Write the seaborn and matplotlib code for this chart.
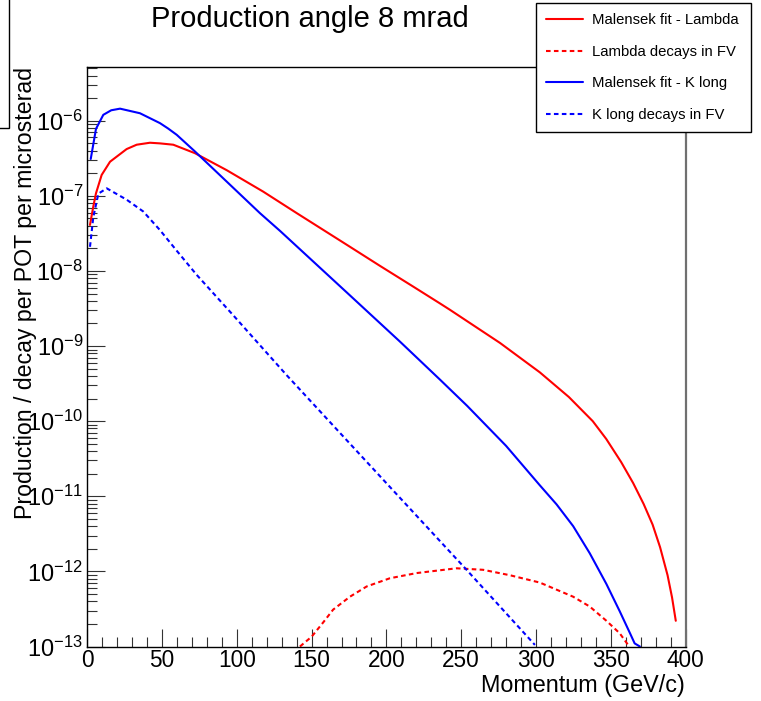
import numpy as np
import pandas as pd
import seaborn as sns
import matplotlib
matplotlib.use("Agg")
import matplotlib.pyplot as plt
from matplotlib.ticker import LogLocator, MultipleLocator, NullFormatter, FixedLocator
from matplotlib.lines import Line2D
from matplotlib.patches import Rectangle

# ---------------- data ----------------
lam_p = [1.8, 4.0, 5.8, 9.6, 15.2, 26.3, 33.0, 41.9, 48.6, 57.5, 72, 93.2, 117.6, 140, 162.2, 173.4,
         195.7, 217.9, 235.8, 242.4, 276, 302.6, 322, 338, 347, 357, 365, 372, 378, 383, 388, 391, 393.5]
lam_v = [4.1e-8, 7.2e-8, 1.08e-7, 1.9e-7, 2.85e-7, 4.2e-7, 4.8e-7, 5.1e-7, 5.0e-7, 4.8e-7, 3.7e-7,
         2.2e-7, 1.14e-7, 5.9e-8, 3.1e-8, 2.24e-8, 1.17e-8, 6.2e-9, 3.7e-9, 3.05e-9, 1.1e-9,
         4.47e-10, 2.1e-10, 1.0e-10, 5.8e-11, 2.85e-11, 1.5e-11, 7.9e-12, 4.2e-12, 2.1e-12,
         8.9e-13, 4.5e-13, 2.2e-13]

lamfv_p = [142.2, 150, 157.8, 164.4, 175.6, 186.8, 202.3, 220.2, 246.9, 264.7, 282.5, 302.6,
           324.9, 336, 347.1, 356, 361.6]
lamfv_v = [1.0e-13, 1.35e-13, 2.1e-13, 3.1e-13, 4.6e-13, 6.3e-13, 8.1e-13, 9.5e-13, 1.1e-12,
           1.05e-12, 8.9e-13, 7.1e-13, 4.6e-13, 3.4e-13, 2.2e-13, 1.5e-13, 1.05e-13]

kl_p = [2.3, 5.8, 10.7, 16, 21.9, 35.2, 48.6, 54, 59.8, 72, 93.2, 115.4, 129, 173.4, 209, 236, 254,
        280, 302.6, 313.8, 324.9, 336, 347.1, 356, 362.9, 366, 369.5]
kl_v = [3.1e-7, 7.8e-7, 1.2e-6, 1.38e-6, 1.45e-6, 1.26e-6, 9.3e-7, 7.9e-7, 6.5e-7, 3.9e-7, 1.55e-7,
        5.9e-8, 3.4e-8, 5.2e-9, 1.15e-9, 3.55e-10, 1.6e-10, 4.7e-11, 1.4e-11, 7.8e-12, 4.0e-12,
        1.74e-12, 6.8e-13, 2.95e-13, 1.5e-13, 1.1e-13, 1.0e-13]

klfv_p = [1.8, 4.0, 7.4, 13, 26.3, 37.4, 48.6, 59.8, 73.1, 97.6, 133.3, 197.9, 253.6, 299.3]
klfv_v = [2.1e-8, 5.2e-8, 1.07e-7, 1.26e-7, 8.9e-8, 6.2e-8, 3.5e-8, 1.86e-8, 8.9e-9, 2.57e-9,
          4.1e-10, 1.66e-11, 1.05e-12, 1.05e-13]

series_labels = ["Malensek fit - Lambda", "Lambda decays in FV", "Malensek fit - K long", "K long decays in FV"]
x_ticks = [0, 50, 100, 150, 200, 250, 300, 350, 400]
title = "Production angle 8 mrad"
xlabel = "Momentum (GeV/c)"
ylabel = "Production / decay per POT per microsterad"

# ---------------- style ----------------
sns.set_theme(style="white")
plt.rcParams["font.family"] = ["Liberation Sans", "DejaVu Sans"]
plt.rcParams["mathtext.fontset"] = "custom"
plt.rcParams["mathtext.rm"] = "Liberation Sans"
plt.rcParams["mathtext.it"] = "Liberation Sans:italic"
plt.rcParams["mathtext.bf"] = "Liberation Sans:bold"
plt.rcParams["text.color"] = "black"
plt.rcParams["axes.labelcolor"] = "black"
plt.rcParams["xtick.color"] = "black"
plt.rcParams["ytick.color"] = "black"

W, H = 761, 701
fig = plt.figure(figsize=(W / 100, H / 100), dpi=100)
ax_l, ax_r, ax_t, ax_b = 87.3, 685.5, 66.7, 646.5
ax = fig.add_axes([ax_l / W, 1 - ax_b / H, (ax_r - ax_l) / W, (ax_b - ax_t) / H])

RED, BLUE = "#ff0000", "#0000ff"
dash = (0, (2.2, 1.6))
specs = [
    (lam_p, lam_v, RED, "-"),
    (lamfv_p, lamfv_v, RED, dash),
    (kl_p, kl_v, BLUE, "-"),
    (klfv_p, klfv_v, BLUE, dash),
]
for (xs, ys, c, ls), lab in zip(specs, series_labels):
    df = pd.DataFrame({"p": xs, "v": ys})
    sns.lineplot(data=df, x="p", y="v", ax=ax, color=c, linewidth=1.5,
                 linestyle=ls, sort=False, estimator=None)

ax.set_yscale("log")
ax.set_xlim(0, 400)
ax.set_ylim(1e-13, 10 ** -5.28)
ax.set_xlabel("")
ax.set_ylabel("")

ax.xaxis.set_major_locator(FixedLocator(x_ticks))
ax.set_xticklabels([str(t) for t in x_ticks])
ax.xaxis.set_minor_locator(MultipleLocator(10))
ax.yaxis.set_major_locator(LogLocator(base=10, numticks=30))
ax.yaxis.set_minor_locator(LogLocator(base=10, subs=np.arange(2, 10), numticks=30))
ax.yaxis.set_minor_formatter(NullFormatter())

ax.tick_params(axis="both", which="major", direction="in", length=13, width=0.8,
               color="#333333", top=False, right=False, labelcolor="black")
ax.tick_params(axis="x", which="major", labelsize=16.3, pad=2)
ax.tick_params(axis="y", which="major", labelsize=17, pad=3)
ax.tick_params(axis="both", which="minor", direction="in", length=7, width=0.8,
               color="#333333", top=False, right=False)
ax.tick_params(axis="x", which="both", bottom=True)
ax.tick_params(axis="y", which="both", left=True)

for s in ["left", "bottom", "top"]:
    ax.spines[s].set_color("black")
    ax.spines[s].set_linewidth(1.0)
ax.spines["right"].set_color("#707070")
ax.spines["right"].set_linewidth(1.6)
ax.grid(False)

# texts
fig.text(309.5 / W, 1 - 27 / H, title, fontsize=21, ha="center", va="baseline", color="black")
fig.text(685 / W, 1 - 691.7 / H, xlabel, fontsize=16.8, ha="right", va="baseline", color="black")
fig.text(26 / W, 1 - 67 / H, ylabel, fontsize=16.7, ha="center", va="top", rotation=90, color="black")

# legend
handles = [Line2D([], [], color=c, lw=1.5, linestyle=ls) for (_, _, c, ls) in specs]
leg_l, leg_t, leg_r, leg_b = 535.7, 3.3, 750.7, 132.7
leg = fig.legend(handles, series_labels, loc="upper left",
                 bbox_to_anchor=(leg_l / W, 1 - leg_b / H, (leg_r - leg_l) / W, (leg_b - leg_t) / H),
                 mode="expand", borderaxespad=0, fontsize=10.7, handlelength=2.55,
                 handletextpad=0.55, labelspacing=1.19, borderpad=0.66,
                 fancybox=False, framealpha=1, edgecolor="black", labelcolor="black")
leg.get_frame().set_linewidth(1.0)

# partial box at top-left edge
fig.add_artist(Rectangle((-0.01, 1 - 128 / H), 0.01 + 9 / W, 128 / H + 0.01,
                         transform=fig.transFigure, fill=False, ec="black", lw=1.0,
                         clip_on=False))

fig.savefig("out.png", dpi=100)
